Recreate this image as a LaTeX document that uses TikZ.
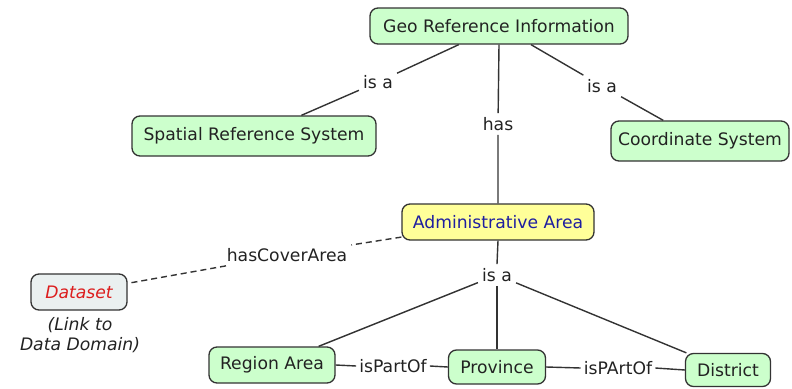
\documentclass[tikz,border=0pt]{standalone}
\usepackage{fontspec}
\setmainfont{DejaVu Sans}
\begin{document}
\definecolor{boxgreen}{RGB}{204,255,204}
\definecolor{boxyellow}{RGB}{255,255,153}
\definecolor{boxgrey}{RGB}{234,240,240}
\definecolor{edge}{RGB}{51,51,51}
\definecolor{txt}{RGB}{34,34,34}
\definecolor{areablue}{RGB}{30,30,160}
\definecolor{dsred}{RGB}{220,30,30}
\begin{tikzpicture}[x=1pt,y=-1pt,
  every node/.style={font=\fontsize{17.2}{20}\selectfont, text=txt},
  concept/.style={draw=edge, line width=1.3pt, rounded corners=8pt, fill=boxgreen,
    inner sep=0pt, align=center},
  linkword/.style={inner sep=4pt},
  conn/.style={draw=edge, line width=1.4pt},
  dashconn/.style={conn, dashed, dash pattern=on 6pt off 4pt}]
\useasboundingbox (0,0) rectangle (792,388);

% concepts
\node[concept, minimum width=258pt, minimum height=36pt] (geo) at (499,26) {Geo Reference Information};
\node[concept, minimum width=244pt, minimum height=40pt] (srs) at (254,136) {Spatial Reference System};
\node[concept, minimum width=178pt, minimum height=40pt] (cs) at (700,141) {Coordinate System};
\node[concept, fill=boxyellow, text=areablue, minimum width=192pt, minimum height=36pt] (admin) at (498,222) {Administrative Area};
\node[concept, fill=boxgrey, text=dsred, font=\fontsize{17.2}{20}\selectfont\itshape,
  minimum width=96pt, minimum height=36pt] (dataset) at (79,292) {Dataset};
\node[align=center, font=\fontsize{17.2}{20}\selectfont\itshape] (note) at (80,335) {(Link to\\Data Domain)};
\node[concept, minimum width=126pt, minimum height=36pt] (region) at (272,365) {Region Area};
\node[concept, minimum width=97pt, minimum height=34pt] (province) at (497,367) {Province};
\node[concept, minimum width=85pt, minimum height=33pt] (district) at (728,370) {District};

% linking phrases
\node[linkword] (isa1) at (378,82) {is a};
\node[linkword] (has) at (498,124) {has};
\node[linkword] (isa2) at (602,86) {is a};
\node[linkword] (cover) at (287,255) {hasCoverArea};
\node[linkword] (isa3) at (497,275) {is a};
\node[linkword, inner sep=3pt] (part1) at (393,366) {isPartOf};
\node[linkword, inner sep=3pt] (part2) at (618,368) {isPArtOf};

% connectors
\draw[conn] (geo) -- (isa1) -- (srs);
\draw[conn] (geo.south) -- (has) -- (admin.north);
\draw[conn] (geo) -- (isa2) -- (cs);
\draw[dashconn] (admin) -- (cover) -- (dataset);
\draw[conn] (admin.south) -- (isa3.north);
\draw[conn] (isa3) -- (region);
\draw[conn] (isa3) -- (province.north);
\draw[conn] (isa3) -- (district);
\draw[conn] (region.east) -- (part1.west);
\draw[conn] (part1.east) -- (province.west);
\draw[conn] (province.east) -- (part2.west);
\draw[conn] (part2.east) -- (district.west);
\end{tikzpicture}
\end{document}
